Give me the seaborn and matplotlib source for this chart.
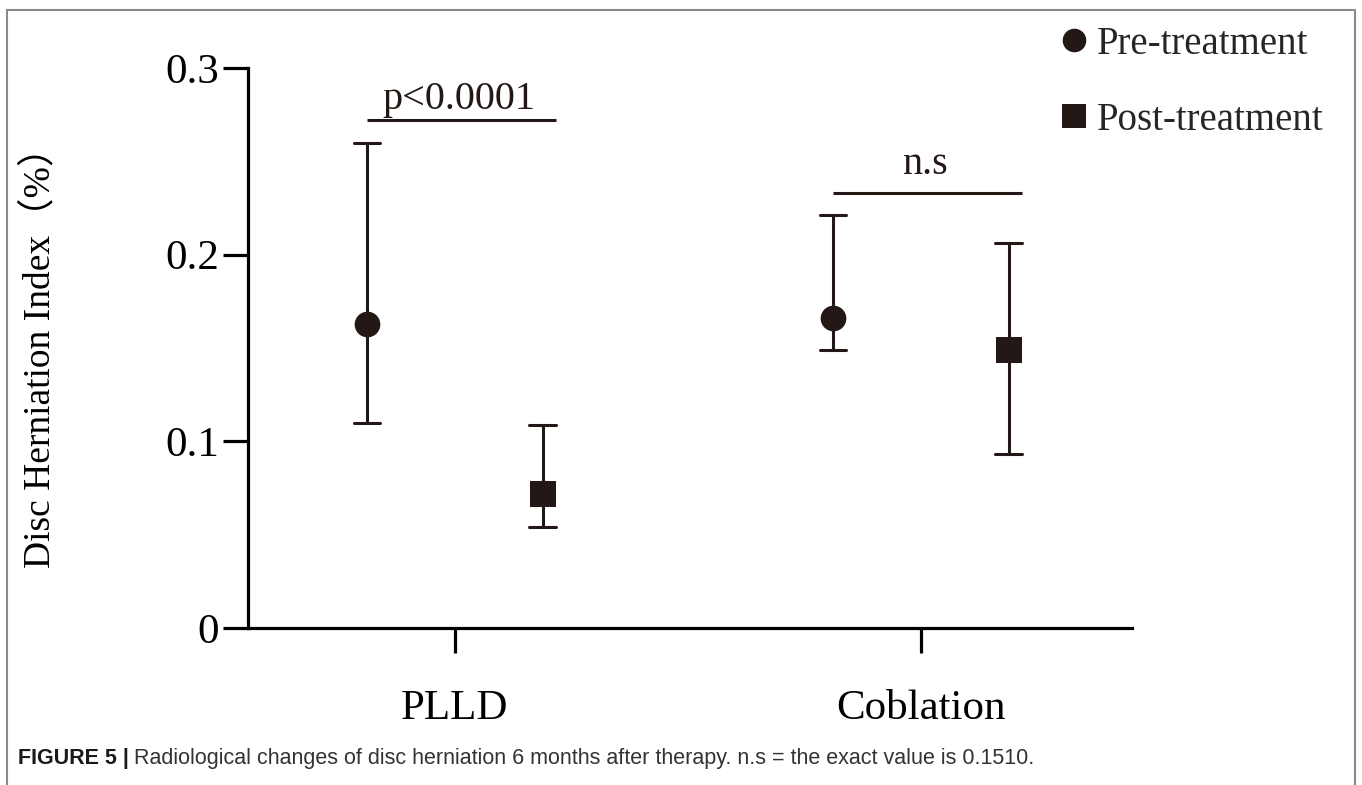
import pandas as pd
import seaborn as sns
import matplotlib.pyplot as plt
from matplotlib.lines import Line2D

# values (Disc Herniation Index)
groups = ['PLLD', 'Coblation']
treatments = ['Pre-treatment', 'Post-treatment']
pre_mean = [0.163, 0.166]
pre_low = [0.110, 0.149]
pre_high = [0.260, 0.221]
post_mean = [0.072, 0.149]
post_low = [0.054, 0.093]
post_high = [0.109, 0.206]
sig_labels = ['p<0.0001', 'n.s']
sig_heights = [0.272, 0.233]
y_ticks = [0, 0.1, 0.2, 0.3]
y_ticklabels = ['0', '0.1', '0.2', '0.3']

ink = '#231815'

# long table: low / mean / high per point -> median = mean, min/max = bar ends
rows = []
for t, lo, mid, hi in [('Pre-treatment', pre_low, pre_mean, pre_high),
                       ('Post-treatment', post_low, post_mean, post_high)]:
    for g, a, b, c in zip(groups, lo, mid, hi):
        for v in (a, b, c):
            rows.append({'group': g, 'treatment': t, 'value': v})
df = pd.DataFrame(rows)

sns.set_theme(style='ticks')
plt.rcParams['font.family'] = ['Liberation Serif', 'Noto Sans CJK SC']

fig = plt.figure(figsize=(13.62, 7.85), dpi=100)
ax = fig.add_axes([248 / 1362, 1 - 628 / 785, 884 / 1362, 560 / 785])

dodge = 0.376
capsize = 0.056
sns.pointplot(data=df, x='group', y='value', hue='treatment',
              order=groups, hue_order=treatments,
              estimator='median', errorbar=lambda v: (v.min(), v.max()),
              markers=['o', 's'], linestyle='none', dodge=dodge,
              capsize=capsize, palette=[ink, ink], linewidth=2.2,
              markersize=18.5, markeredgewidth=0,
              err_kws={'linewidth': 2.2}, legend=False, ax=ax)

# significance bars
sig_offsets = [8, 14]
for i, (lab, h, off) in enumerate(zip(sig_labels, sig_heights, sig_offsets)):
    x0 = i - dodge / 2
    x1 = i + dodge / 2 + capsize / 2
    ax.plot([x0, x1], [h, h], color=ink, lw=2.2, solid_capstyle='butt')
    ax.annotate(lab, xy=((x0 + x1) / 2 - 0.005, h), xytext=(0, off),
                textcoords='offset points', ha='center', va='baseline',
                fontsize=29, color=ink)

ax.set_xlim(-0.444, 1.453)
ax.set_ylim(0, 0.3)
ax.set_yticks(y_ticks)
ax.set_yticklabels(y_ticklabels)
sns.despine(ax=ax)
for s in ['left', 'bottom']:
    ax.spines[s].set_linewidth(2.3)
    ax.spines[s].set_color('black')
ax.tick_params(axis='both', which='major', direction='out', length=18, width=2.3,
               color='black', labelcolor='black', labelsize=31,
               bottom=True, left=True)
ax.tick_params(axis='y', pad=3)
ax.tick_params(axis='x', pad=26)
ax.set_xlabel('')
ax.set_ylabel('Disc Herniation Index（%）', fontsize=27, color='black')
ax.yaxis.set_label_coords(-0.216, 0.50)

# legend
handles = [Line2D([], [], marker='o', ls='none', color=ink, markersize=17, markeredgewidth=0),
           Line2D([], [], marker='s', ls='none', color=ink, markersize=17, markeredgewidth=0)]
fig.legend(handles, treatments, loc='upper left',
           bbox_to_anchor=(1058 / 1362, 1 - 26 / 785), frameon=False,
           fontsize=28, handlelength=0.8, handletextpad=0.2,
           borderpad=0, borderaxespad=0, labelspacing=1.0)

# outer frame of the figure panel
frame = '#8a8a8a'
fig.add_artist(Line2D([7 / 1362, 7 / 1362], [0, 1 - 10 / 785], transform=fig.transFigure, color=frame, lw=1.5))
fig.add_artist(Line2D([7 / 1362, 1355 / 1362], [1 - 10 / 785, 1 - 10 / 785], transform=fig.transFigure, color=frame, lw=1.5))
fig.add_artist(Line2D([1355 / 1362, 1355 / 1362], [0, 1 - 10 / 785], transform=fig.transFigure, color=frame, lw=1.5))

# caption
cap_font = ['Liberation Sans', 'DejaVu Sans']
t1 = fig.text(18 / 1362, 1 - 764 / 785, 'FIGURE 5 |', family=cap_font,
              fontsize=15.5, fontweight='bold', color='#1a1a1a', va='baseline')
ax.annotate('Radiological changes of disc herniation 6 months after therapy. n.s = the exact value is 0.1510.',
            xy=(1, 0), xycoords=t1, xytext=(4, 0), textcoords='offset points',
            va='bottom', ha='left', family=cap_font, fontsize=15.5, color='#333333')

fig.savefig('out.png', dpi=100)
